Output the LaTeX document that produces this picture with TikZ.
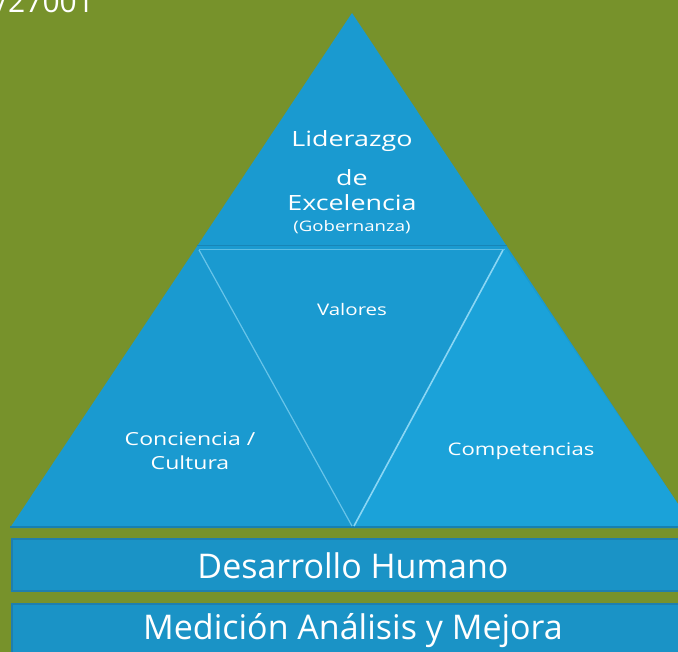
\documentclass[tikz,border=0pt]{standalone}
\usepackage{fontspec}
\setmainfont{Open Sans}
\newfontfamily\widefont[FakeStretch=1.28]{Open Sans}
\definecolor{bg}{HTML}{77922B}
\definecolor{tri}{HTML}{1A9AD0}
\definecolor{trir}{HTML}{1BA2D9}
\definecolor{bar}{HTML}{1A93C6}
\definecolor{barline}{HTML}{1F7FAE}
\definecolor{hl}{HTML}{8AD6F4}
\definecolor{sh}{HTML}{1780B0}
\begin{document}
\begin{tikzpicture}[x=1pt,y=-1pt,
  lbl/.style={text=white,align=center,inner sep=0pt},
  bigl/.style={text=white,inner sep=0pt,font=\fontsize{34}{38}\selectfont},
  barbox/.style={fill=bar,draw=barline,line width=1.2pt}]
\useasboundingbox (0,0) rectangle (678,652);
\fill[bg] (0,0) rectangle (678,652);
\node[text=white,anchor=base west,inner sep=0pt,font=\fontsize{30}{34}\selectfont] (iso) at (-3,13) {/27001};
% big triangle
\fill[tri] (352,13) -- (10,528) -- (694,528) -- cycle;
\fill[trir] (505,247) -- (694,528) -- (352,528) -- cycle;
\draw[sh,line width=2pt] (10,527) -- (694,527);
% inner lines
\draw[sh!80!tri,line width=1pt] (197,246) -- (507,246);
\draw[hl!60!tri,line width=0.8pt] (199,249) -- (505,249);
\draw[hl!70!tri,line width=1.2pt] (199,250) -- (352,526);
\draw[hl,line width=1.6pt] (503,250) -- (354,526);
% bars
\draw[barbox] (12,539) rectangle (690,591);
\draw[barbox] (12,604) rectangle (690,660);
% texts
\node[lbl,font=\widefont\fontsize{21}{24}\selectfont] (lid) at (352,141) {Liderazgo};
\node[lbl,font=\widefont\fontsize{21}{24}\selectfont] (de) at (352,178) {de};
\node[lbl,font=\widefont\fontsize{21}{24}\selectfont] (exc) at (352,203) {Excelencia};
\node[lbl,font=\widefont\fontsize{14.5}{17}\selectfont] (gob) at (352,227) {(Gobernanza)};
\node[lbl,font=\widefont\fontsize{16}{19}\selectfont] (val) at (352,310) {Valores};
\node[lbl,font=\widefont\fontsize{18}{24}\selectfont] (con) at (190,451) {Conciencia /\\Cultura};
\node[lbl,font=\widefont\fontsize{17.3}{20}\selectfont] (comp) at (521,451) {Competencias};
\node[bigl] (dh) at (353,566) {Desarrollo Humano};
\node[bigl] (mam) at (353,631) {Medición Análisis y Mejora};
\end{tikzpicture}
\end{document}
